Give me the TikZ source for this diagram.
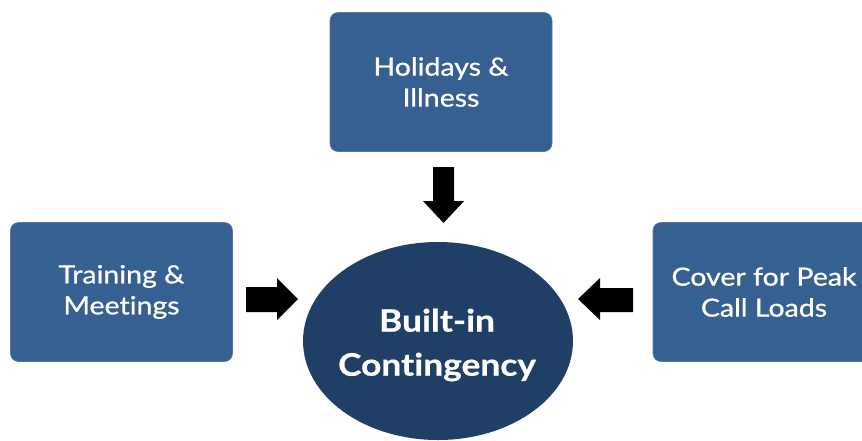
\documentclass[tikz,border=0pt]{standalone}
\usepackage{fontspec}
\setmainfont{Lato}
\newfontfamily\boxfont{Lato}[FakeBold=0.8,FakeStretch=1.14,Ligatures=NoCommon]
\newfontfamily\ellfont{Lato Bold}[FakeBold=0.6,FakeStretch=1.14,Ligatures=NoCommon]
\usetikzlibrary{shapes.geometric}
\definecolor{boxblue}{RGB}{54,96,146}
\definecolor{ellblue}{RGB}{31,63,102}
\begin{document}
\begin{tikzpicture}[x=1pt,y=-1pt,
  cbox/.style={draw=boxblue!85!white,line width=0.6pt,fill=boxblue,rounded corners=8pt,
    minimum width=222pt,minimum height=139pt,inner sep=0pt,text=white,align=center,
    font=\boxfont\fontsize{25}{31}\selectfont},
  cell/.style={ellipse,fill=ellblue,minimum width=270pt,minimum height=198pt,inner sep=0pt},
  celltext/.style={text=white,align=center,font=\ellfont\fontsize{31}{44}\selectfont,inner sep=0pt},
  barrow/.style={fill=black}]
\useasboundingbox (0,0) rectangle (862,440);
\node[cbox] (top) at (441,82) {Holidays \&\\Illness};
\node[cbox] (left) at (121.5,292) {Training \&\\Meetings};
\node[cbox] (right) at (764,292) {Cover for Peak\\Call Loads};
\node[cell] (center) at (438,341) {};
\node[celltext] (centertext) at (437,345) {Built-in\\Contingency};
% block arrows
\fill[barrow] (433,167) -- (454,167) -- (454,201) -- (464,201) -- (443.5,223) -- (423,201) -- (433,201) -- cycle;
\fill[barrow] (246,287) -- (277,287) -- (277,278) -- (298,299) -- (277,320) -- (277,312) -- (246,312) -- cycle;
\fill[barrow] (633,288) -- (600,288) -- (600,278) -- (578,299) -- (600,320) -- (600,312) -- (633,312) -- cycle;
\end{tikzpicture}
\end{document}
